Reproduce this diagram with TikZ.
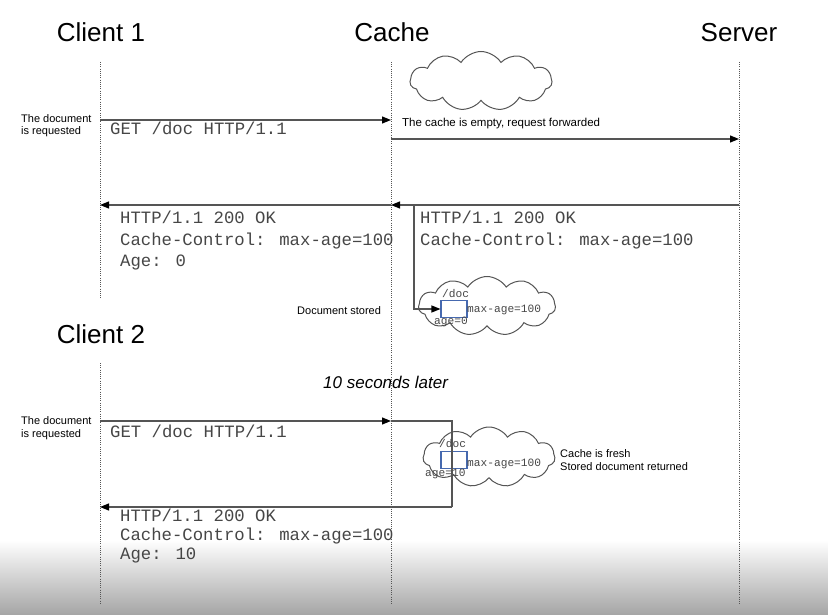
\documentclass[tikz,border=0pt]{standalone}
\usepackage{fontspec}
\setmainfont{Liberation Sans}
\newfontfamily\codefont{Liberation Mono}
\usepackage{tikz}
\usetikzlibrary{arrows.meta,shapes.symbols}
\definecolor{lineclr}{RGB}{85,85,85}
\definecolor{textclr}{RGB}{70,70,70}
\definecolor{boxclr}{RGB}{70,105,175}
\definecolor{fadeclr}{RGB}{165,165,165}

\begin{document}
\begin{tikzpicture}[x=1pt, y=-1pt,
    actor/.style={font=\fontsize{26}{30}\selectfont, anchor=base, inner sep=0pt},
    life/.style={lineclr, line width=0.8pt, dash pattern=on 1pt off 1.2pt},
    link/.style={lineclr, line width=1.2pt},
    msg/.style={link, -{Triangle[length=9pt,width=7pt,color=black]}},
    code/.style={font=\codefont\fontsize{17.3}{20}\selectfont, text=textclr, anchor=base west, inner sep=0pt},
    smallcode/.style={font=\codefont\fontsize{11.2}{13}\selectfont, text=textclr, anchor=base west, inner sep=0pt},
    note/.style={font=\fontsize{11}{13}\selectfont, anchor=base west, inner sep=0pt},
    cloudy/.style={cloud, cloud puffs=11, cloud puff arc=115, cloud ignores aspect, draw=lineclr, line width=1pt, inner sep=0pt},
    docbox/.style={draw=boxclr, fill=white, line width=1.1pt, minimum width=26pt, minimum height=17pt, inner sep=0pt}]
    \useasboundingbox (0,0) rectangle (828,615);

    % Faded strip at the bottom
    \shade[top color=white, bottom color=fadeclr] (0,540) rectangle (828,615);

    % Actors and their lifelines
    \node[actor] (client1) at (101,42) {Client 1};
    \node[actor] (cache) at (392,42) {Cache};
    \node[actor] (server) at (739,42) {Server};
    \node[actor] (client2) at (101,343) {Client 2};

    \coordinate (c1top) at (100,62);
    \coordinate (c1end) at (100,298);
    \coordinate (c2top) at (100,363);
    \coordinate (c2end) at (100,605);
    \coordinate (catop) at (391,62);
    \coordinate (caend) at (391,605);
    \coordinate (svtop) at (739,62);
    \coordinate (svend) at (739,605);
    \draw[life] (c1top) -- (c1end);
    \draw[life] (c2top) -- (c2end);
    \draw[life] (catop) -- (caend);
    \draw[life] (svtop) -- (svend);

    % Cache contents
    \node[cloudy, minimum width=142pt, minimum height=59pt] (empty) at (481,81) {};
    \node[cloudy, minimum width=137pt, minimum height=59pt] (store1) at (487,306) {};
    \node[cloudy, minimum width=132pt, minimum height=60pt] (store2) at (489,457) {};
    \node[docbox] (doc1) at (454,309) {};
    \node[docbox] (doc2) at (454,460) {};

    % First request, forwarded to the server
    \coordinate (c1req) at (100,120);
    \coordinate (careq1) at (391,120);
    \coordinate (cafwd) at (391,139);
    \coordinate (svfwd) at (739,139);
    \draw[msg] (c1req) -- (careq1);
    \draw[msg] (cafwd) -- (svfwd);

    % Response, stored and passed on
    \coordinate (svresp) at (739,205);
    \coordinate (caresp) at (391,205);
    \coordinate (c1resp) at (100,205);
    \coordinate (branch) at (414,205);
    \draw[msg] (svresp) -- (caresp);
    \draw[msg] (caresp) -- (c1resp);
    \draw[msg] (branch) |- (doc1.west);

    % Second request, served from the cache
    \coordinate (c2req) at (100,421);
    \coordinate (careq2) at (391,421);
    \coordinate (turna) at (452,421);
    \coordinate (turnb) at (452,507);
    \coordinate (c2resp) at (100,507);
    \draw[link] (careq2) -- (turna) -- (turnb);
    \draw[msg] (c2req) -- (careq2);
    \draw[msg] (turnb) -- (c2resp);

    % Texts
    \node[note] (ask1a) at (21,123) {The document};
    \node[note] (ask1b) at (21,135) {is requested};
    \node[code] (get1) at (110,135) {GET /doc HTTP/1.1};
    \node[note, font=\fontsize{11.5}{13}\selectfont] (fwd) at (402,127) {The cache is empty, request forwarded};

    \node[code] (resp1a) at (120,224) {HTTP/1.1 200 OK};
    \node[code] (resp1b) at (120,245) {Cache-Control: max-age=100};
    \node[code] (resp1c) at (120,266) {Age: 0};
    \node[code] (resp0a) at (420,224) {HTTP/1.1 200 OK};
    \node[code] (resp0b) at (420,245) {Cache-Control: max-age=100};

    \node[note] (stored) at (297,314) {Document stored};
    \node[smallcode] (path1) at (442,297) {/doc};
    \node[smallcode] (max1) at (467,312) {max-age=100};
    \node[smallcode] (age1) at (434,324) {age=0};

    \node[note, font=\fontsize{17}{20}\selectfont\itshape] (later) at (323,388) {10 seconds later};

    \node[note] (ask2a) at (21,424) {The document};
    \node[note] (ask2b) at (21,437) {is requested};
    \node[code] (get2) at (110,437) {GET /doc HTTP/1.1};
    \node[smallcode] (path2) at (439,447) {/doc};
    \node[smallcode] (max2) at (467,466) {max-age=100};
    \node[smallcode] (age2) at (425,476) {age=10};
    \node[note] (fresha) at (560,457) {Cache is fresh};
    \node[note] (freshb) at (560,470) {Stored document returned};

    \node[code] (resp2a) at (120,521) {HTTP/1.1 200 OK};
    \node[code] (resp2b) at (120,540) {Cache-Control: max-age=100};
    \node[code] (resp2c) at (120,559) {Age: 10};
\end{tikzpicture}
\end{document}
